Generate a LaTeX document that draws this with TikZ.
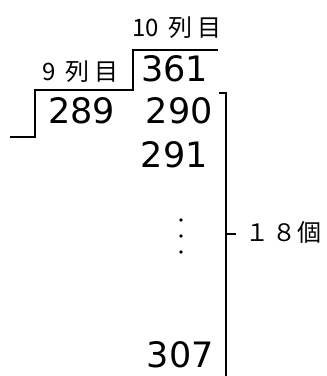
\documentclass[tikz,border=0pt]{standalone}
\usepackage{fontspec}
\newfontfamily\numfont{DejaVu Sans}
\newfontfamily\jpfont{Noto Sans CJK JP}
\begin{document}
\begin{tikzpicture}[x=1pt,y=-1pt,
  num/.style={font=\numfont\fontsize{35}{35}\selectfont, inner sep=0pt},
  lab/.style={font=\jpfont\fontsize{24}{24}\selectfont, inner sep=0pt},
  ln/.style={line width=1.8pt}]
\useasboundingbox (0,0) rectangle (327,376);
% labels
\node[lab, anchor=west] (t10) at (132,28) {10\hspace{10pt}列\hspace{5pt}目};
\node[lab, anchor=west] (t9) at (42,72) {9\hspace{10pt}列\hspace{5pt}目};
% numbers
\node[num, anchor=base west] (n361) at (141,81) {361};
\node[num, anchor=base west] (n289) at (48,123) {289};
\node[num, anchor=base east] (n290) at (213,123) {290};
\node[num, anchor=base east] (n291) at (208,167) {291};
\node[num, anchor=base east] (n307) at (214,367) {307};
% staircase line
\coordinate (s1) at (218,50);
\coordinate (s2) at (133,50);
\coordinate (s3) at (133,90);
\coordinate (s4) at (35,90);
\coordinate (s5) at (35,137);
\coordinate (s6) at (10,137);
\draw[ln] (s1) -- (s2) -- (s3) -- (s4) -- (s5) -- (s6);
% bracket
\coordinate (b0) at (219,93);
\coordinate (b1) at (226,93);
\coordinate (b2) at (226,376);
\coordinate (m1) at (226,234);
\coordinate (m2) at (236,234);
\draw[ln] (b0) -- (b1) -- (b2);
\draw[ln] (m1) -- (m2);
\node[lab, anchor=west] (cnt) at (245,232) {１\hspace{3pt}８\hspace{1pt}個};
% dots
\foreach \yy in {220,236,252} \fill (181,\yy) circle (1.8);
\end{tikzpicture}
\end{document}
